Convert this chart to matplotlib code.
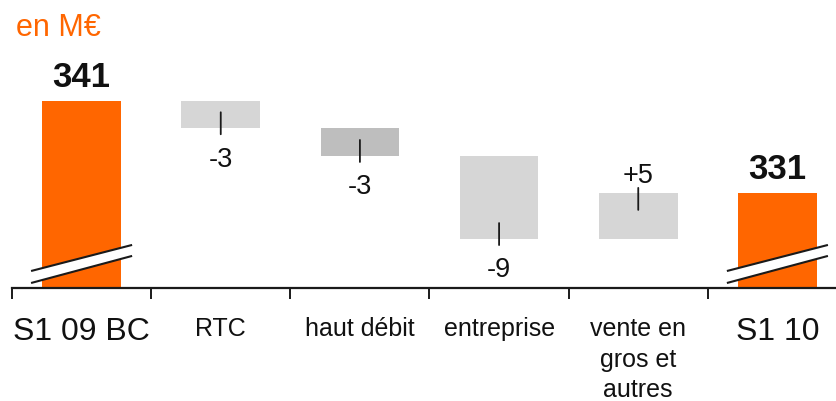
import matplotlib
matplotlib.use('Agg')
import matplotlib.pyplot as plt
from matplotlib.transforms import offset_copy, blended_transform_factory
from matplotlib.patches import Polygon
import numpy as np

# ---- data ----
categories = ['S1 09 BC', 'RTC', 'haut débit', 'entreprise', 'vente en\ngros et\nautres', 'S1 10']
start_value = 341
deltas = [-3, -3, -9, 5]
end_value = 331
delta_labels = ['-3', '-3', '-9', '+5']
total_labels = ['341', '331']
unit_label = 'en M€'

# ---- style ----
plt.rcParams['font.family'] = ['Liberation Sans', 'DejaVu Sans']
ORANGE = '#FF6600'
delta_colors = ['#D6D6D6', '#BEBEBE', '#D6D6D6', '#D6D6D6']
DARK = '#1a1a1a'
BAR_W = 0.565

W, H = 837, 402
fig = plt.figure(figsize=(W / 100, H / 100), dpi=100)
ax = fig.add_axes([12 / W, 1 - 289 / H, 835 / W, 289 / H])
ax.set_xlim(-0.5, 5.5)
ax.set_ylim(320.7, 352.0)

x = np.arange(len(categories))

# totals
ax.bar([x[0], x[-1]], [start_value, end_value], width=BAR_W, color=ORANGE, zorder=2)
for xi, val, lab in zip([x[0], x[-1]], [start_value, end_value], total_labels):
    ax.annotate(lab, xy=(xi, val), xytext=(0, 10.5), textcoords='offset points',
                ha='center', va='baseline', fontsize=25, fontweight='bold', color='#111111')

# deltas
running = start_value
for i, (d, lab, col) in enumerate(zip(deltas, delta_labels, delta_colors)):
    xi = x[i + 1]
    lo, hi = min(running, running + d), max(running, running + d)
    ax.bar(xi, hi - lo, bottom=lo, width=BAR_W, color=col, zorder=2)
    if d < 0:
        edge = lo
        start = offset_copy(ax.transData, fig=fig, x=0, y=-6, units='dots')
        ax.annotate('', xy=(xi, edge), xycoords=start, xytext=(0, 22 * 0.72),
                    textcoords='offset points',
                    arrowprops=dict(arrowstyle='-', lw=1.3, color=DARK, shrinkA=0, shrinkB=0),
                    zorder=3)
        ax.annotate(lab, xy=(xi, edge), xytext=(0, -12.5), textcoords='offset points',
                    ha='center', va='top', fontsize=19.5, color='#111111')
    else:
        edge = hi
        start = offset_copy(ax.transData, fig=fig, x=0, y=5, units='dots')
        ax.annotate('', xy=(xi, edge), xycoords=start, xytext=(0, -22 * 0.72),
                    textcoords='offset points',
                    arrowprops=dict(arrowstyle='-', lw=1.3, color=DARK, shrinkA=0, shrinkB=0),
                    zorder=3)
        ax.annotate(lab, xy=(xi, edge), xytext=(0, 8), textcoords='offset points',
                    ha='center', va='baseline', fontsize=19.5, color='#111111')
    running += d

# axis break marks on total bars
bt = blended_transform_factory(ax.transData, ax.transAxes)
hw = 0.363
for xi in [x[0], x[-1]]:
    lo_l, lo_r, up_l, up_r = 0.0173, 0.111, 0.0588, 0.149
    poly = Polygon([(xi - hw, lo_l), (xi + hw, lo_r), (xi + hw, up_r), (xi - hw, up_l)],
                   closed=True, facecolor='white', edgecolor='none', transform=bt,
                   zorder=4, clip_on=False)
    ax.add_patch(poly)
    ax.plot([xi - hw, xi + hw], [lo_l, lo_r], color=DARK, lw=1.5, transform=bt, zorder=5,
            clip_on=False, solid_capstyle='butt')
    ax.plot([xi - hw, xi + hw], [up_l, up_r], color=DARK, lw=1.5, transform=bt, zorder=5,
            clip_on=False, solid_capstyle='butt')

# axes styling
for s in ['top', 'right', 'left']:
    ax.spines[s].set_visible(False)
ax.spines['bottom'].set_linewidth(1.6)
ax.spines['bottom'].set_color(DARK)
ax.set_yticks([])
ax.set_xticks(np.arange(-0.5, len(categories), 1.0))
ax.set_xticklabels([])
ax.tick_params(axis='x', which='major', direction='out', length=8, width=1.4, color=DARK)
ax.set_xticks(x, minor=True)
ax.set_xticklabels(categories, minor=True)
ax.tick_params(axis='x', which='minor', length=0, pad=20.5)
for i, lbl in enumerate(ax.get_xticklabels(minor=True)):
    lbl.set_color('#111111')
    lbl.set_linespacing(1.32)
    if i in (0, len(categories) - 1):
        lbl.set_fontsize(23)
    else:
        lbl.set_fontsize(18)

fig.text(16 / W, 1 - 36 / H, unit_label, color=ORANGE, fontsize=22, ha='left', va='baseline')

fig.savefig('out.png', dpi=100)
